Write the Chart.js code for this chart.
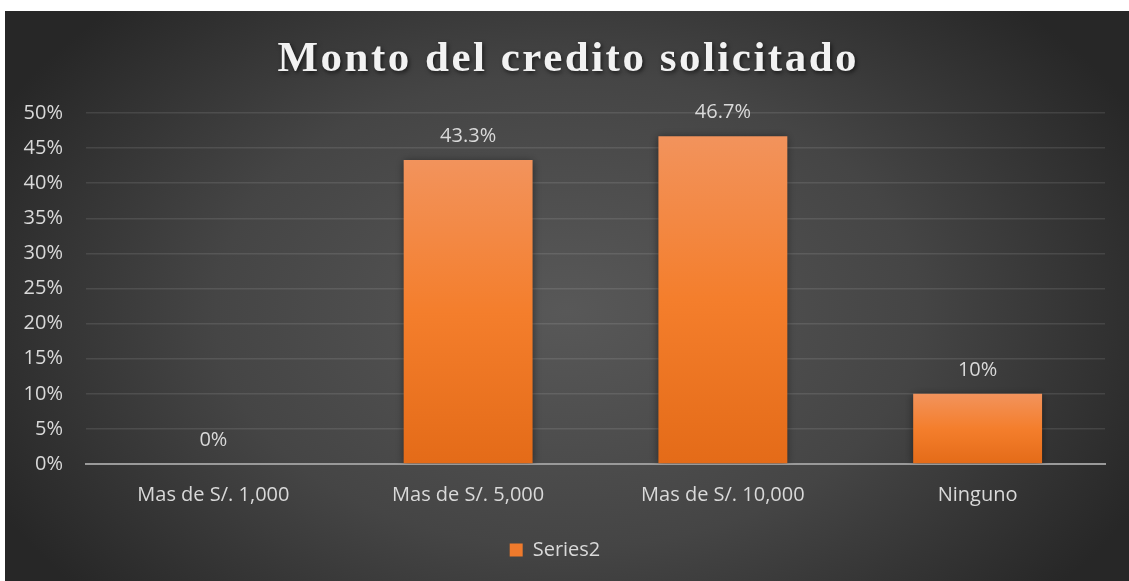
<!DOCTYPE html>
<html>
<head>
<meta charset="utf-8">
<script src="https://cdn.jsdelivr.net/npm/chart.js@4"></script>
<style>
  html, body { margin: 0; padding: 0; background: #ffffff; }
  #wrap { position: absolute; left: 5px; top: 11px; width: 1124px; height: 570px; }
</style>
</head>
<body>
<div id="wrap"><canvas id="c"></canvas></div>
<script>
const titleText = 'Monto del credito solicitado';
const categories = ['Mas de S/. 1,000', 'Mas de S/. 5,000', 'Mas de S/. 10,000', 'Ninguno'];
const seriesName = 'Series2';
const values = [0, 43.3, 46.7, 10];
const valueLabels = ['0%', '43.3%', '46.7%', '10%'];

const TEXT = '#d9d9d9';
const FONT = "'Open Sans', sans-serif";

const bgPlugin = {
  id: 'bg',
  beforeDraw(chart) {
    const { ctx, width, height } = chart;
    ctx.save();
    const cx = 562, cy = 300, rx = 640, ry = 430;
    ctx.translate(cx, cy);
    ctx.scale(1, ry / rx);
    const g = ctx.createRadialGradient(0, 0, 0, 0, 0, rx);
    g.addColorStop(0, '#585858');
    g.addColorStop(0.55, '#454545');
    g.addColorStop(1, '#272727');
    ctx.fillStyle = g;
    ctx.fillRect(-cx, -cy * rx / ry, width, height * rx / ry);
    ctx.restore();
  }
};

const shadowPlugin = {
  id: 'barShadow',
  beforeDatasetsDraw(chart) {
    const ctx = chart.ctx;
    ctx.save();
    ctx.shadowColor = 'rgba(0,0,0,0.45)';
    ctx.shadowBlur = 8;
    ctx.shadowOffsetX = 0;
    ctx.shadowOffsetY = 1;
  },
  afterDatasetsDraw(chart) {
    chart.ctx.restore();
  }
};

const labelsPlugin = {
  id: 'valueLabels',
  afterDatasetsDraw(chart) {
    const { ctx } = chart;
    const meta = chart.getDatasetMeta(0);
    ctx.save();
    ctx.fillStyle = TEXT;
    ctx.font = '20px ' + FONT;
    ctx.textAlign = 'center';
    ctx.textBaseline = 'middle';
    meta.data.forEach((bar, i) => {
      ctx.fillText(valueLabels[i], bar.x, bar.y - 24);
    });
    ctx.restore();
  }
};

const titlePlugin = {
  id: 'customTitle',
  afterDraw(chart) {
    const { ctx, width } = chart;
    ctx.save();
    ctx.font = "bold 43px 'Liberation Serif', 'Times New Roman', serif";
    ctx.letterSpacing = '2.5px';
    ctx.textAlign = 'center';
    ctx.textBaseline = 'alphabetic';
    ctx.shadowColor = 'rgba(0,0,0,0.6)';
    ctx.shadowBlur = 4;
    ctx.shadowOffsetX = 1.5;
    ctx.shadowOffsetY = 2;
    ctx.fillStyle = '#f2f2f2';
    ctx.fillText(titleText, width / 2 + 1.3, 60);
    ctx.restore();
  }
};

function barGradient(context) {
  const chart = context.chart;
  const ys = chart.scales.y;
  if (!ys || context.type !== 'data') return '#F07F2E';
  const top = ys.getPixelForValue(values[context.dataIndex]);
  const base = ys.getPixelForValue(0);
  if (!isFinite(top) || !isFinite(base) || base - top < 1) return '#F07F2E';
  const g = chart.ctx.createLinearGradient(0, top, 0, base);
  g.addColorStop(0, '#F2935C');
  g.addColorStop(0.5, '#F47E2C');
  g.addColorStop(1, '#E46B18');
  return g;
}

new Chart(document.getElementById('c'), {
  type: 'bar',
  data: {
    labels: categories,
    datasets: [{
      label: seriesName,
      data: values,
      backgroundColor: barGradient,
      borderWidth: 0,
      categoryPercentage: 1.0,
      barPercentage: 0.506
    }]
  },
  plugins: [bgPlugin, shadowPlugin, labelsPlugin, titlePlugin],
  options: {
    responsive: true,
    maintainAspectRatio: false,
    animation: false,
    layout: { padding: { top: 102, right: 24, bottom: 11, left: 0 } },
    plugins: {
      title: { display: false },
      tooltip: { enabled: false },
      legend: {
        display: true,
        position: 'bottom',
        labels: {
          color: TEXT,
          font: { family: FONT, size: 20 },
          boxWidth: 13,
          boxHeight: 13,
          padding: 10,
          generateLabels: () => [{
            text: seriesName,
            fillStyle: '#EF7A2C',
            strokeStyle: '#EF7A2C',
            lineWidth: 0,
            fontColor: TEXT,
            datasetIndex: 0
          }]
        }
      }
    },
    scales: {
      x: {
        grid: { display: false, drawTicks: false },
        border: { display: true, color: '#9a9a9a', width: 2 },
        ticks: { color: TEXT, font: { family: FONT, size: 20 }, padding: 19, maxRotation: 0 },
        afterFit(scale) { scale.height = 66; }
      },
      y: {
        min: 0,
        max: 50,
        grid: { color: 'rgba(255,255,255,0.1)', lineWidth: 1.5, drawTicks: false },
        border: { display: false },
        ticks: {
          stepSize: 5,
          color: TEXT,
          font: { family: FONT, size: 20 },
          padding: 23,
          callback: v => v + '%'
        },
        afterFit(scale) { scale.width = 81; }
      }
    }
  }
});
</script>
</body>
</html>
